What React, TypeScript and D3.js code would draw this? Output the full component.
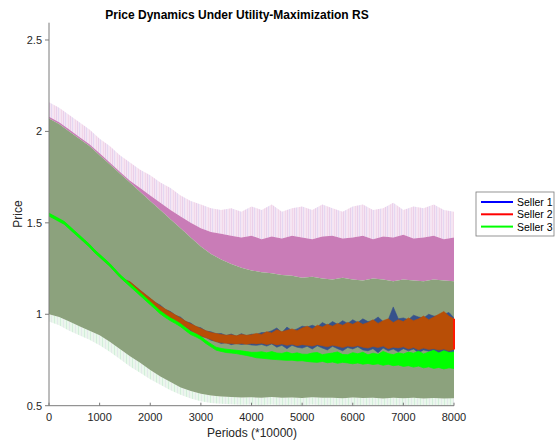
import React from 'react';
import * as d3 from 'd3';

// ---------- data ----------
const xTicks = [0, 1000, 2000, 3000, 4000, 5000, 6000, 7000, 8000];
const yTicks = [0.5, 1, 1.5, 2, 2.5];
const sellers = ['Seller 1', 'Seller 2', 'Seller 3'];

// envelope of all simulated paths, sampled every 200 periods
const bandPeriods = d3.range(0, 8001, 200);
const greenTop = [2.07,2.04,2.0,1.96,1.92,1.87,1.82,1.77,1.72,1.67,1.62,1.57,1.52,1.47,1.42,1.37,1.33,1.3,1.275,1.255,1.24,1.23,1.225,1.215,1.21,1.2,1.205,1.195,1.19,1.2,1.19,1.185,1.195,1.19,1.18,1.19,1.185,1.18,1.19,1.185,1.18];
const pinkTop = [2.08,2.05,2.01,1.97,1.93,1.88,1.83,1.78,1.73,1.69,1.65,1.61,1.57,1.535,1.5,1.47,1.45,1.44,1.43,1.42,1.43,1.41,1.425,1.415,1.43,1.42,1.41,1.425,1.43,1.415,1.42,1.43,1.41,1.425,1.42,1.435,1.415,1.42,1.43,1.41,1.42];
const fuzzTop = [2.16,2.13,2.09,2.05,2.01,1.96,1.92,1.87,1.83,1.79,1.76,1.72,1.69,1.65,1.62,1.6,1.58,1.57,1.58,1.56,1.59,1.57,1.6,1.56,1.58,1.59,1.57,1.6,1.58,1.56,1.59,1.6,1.57,1.58,1.61,1.57,1.59,1.58,1.6,1.57,1.56];
const bandLo = [1.0,0.985,0.96,0.935,0.91,0.885,0.85,0.81,0.77,0.735,0.695,0.66,0.63,0.6,0.58,0.565,0.556,0.55,0.548,0.545,0.546,0.544,0.547,0.543,0.545,0.542,0.546,0.543,0.544,0.541,0.545,0.542,0.544,0.54,0.543,0.541,0.544,0.54,0.542,0.539,0.541];
const fuzzLo = [0.96,0.94,0.91,0.885,0.86,0.83,0.795,0.755,0.715,0.68,0.645,0.615,0.585,0.56,0.54,0.525,0.515,0.51,0.508,0.505,0.506,0.504,0.507,0.503,0.505,0.502,0.506,0.503,0.504,0.502,0.505,0.502,0.504,0.5,0.503,0.501,0.504,0.5,0.502,0.5,0.501];

// mean price per seller (min / max within each 100-period bin)
const linePeriods = d3.range(0, 8001, 100);
const s1Hi = [1.549,1.534,1.519,1.504,1.479,1.454,1.429,1.404,1.379,1.349,1.324,1.299,1.274,1.244,1.214,1.189,
  1.176,1.153,1.13,1.108,1.086,1.064,1.05,1.026,1.015,0.994,0.984,0.96,0.952,0.932,0.926,0.908,0.904,0.893,0.895,0.884,0.892,0.88,0.894,0.883,0.891,
  0.89,0.9,0.9,0.91,0.925,0.9,0.93,0.91,0.92,0.935,0.93,0.94,0.93,0.955,0.94,0.96,0.945,0.965,0.95,0.97,0.955,0.975,0.96,0.965,0.985,0.96,0.97,1.04,0.975,0.98,0.97,0.995,0.985,0.98,1.0,0.99,0.99,1.0,1.01,0.98];
const s1Lo = [1.541,1.526,1.511,1.496,1.471,1.446,1.421,1.396,1.371,1.341,1.316,1.291,1.266,1.236,1.206,1.181,
  1.16,1.135,1.106,1.087,1.06,1.042,1.015,1.0,0.976,0.967,0.944,0.932,0.908,0.897,0.878,0.874,0.858,0.852,0.84,0.844,0.834,0.84,0.835,0.838,0.832,
  0.83,0.835,0.826,0.838,0.82,0.83,0.812,0.83,0.82,0.815,0.825,0.81,0.828,0.815,0.805,0.825,0.812,0.8,0.818,0.81,0.822,0.805,0.8,0.812,0.79,0.815,0.8,0.81,0.795,0.812,0.8,0.81,0.79,0.805,0.798,0.8,0.79,0.8,0.785,0.79];
const s2Hi = [1.549,1.534,1.519,1.504,1.479,1.454,1.429,1.404,1.379,1.349,1.324,1.299,1.274,1.244,1.214,1.189,
  1.178,1.155,1.132,1.11,1.088,1.066,1.045,1.028,1.012,0.996,0.98,0.962,0.948,0.935,0.922,0.91,0.9,0.895,0.89,0.885,0.888,0.882,0.89,0.885,0.888,
  0.895,0.89,0.905,0.898,0.915,0.905,0.912,0.92,0.91,0.925,0.935,0.92,0.94,0.93,0.945,0.935,0.95,0.94,0.955,0.945,0.96,0.945,0.955,0.97,0.95,0.965,0.975,0.955,0.97,0.96,0.98,0.965,0.975,0.99,0.97,0.985,1.0,1.015,0.99,0.975];
const s2Lo = [1.541,1.526,1.511,1.496,1.471,1.446,1.421,1.396,1.371,1.341,1.316,1.291,1.266,1.236,1.206,1.181,
  1.158,1.133,1.108,1.085,1.062,1.04,1.018,0.998,0.98,0.965,0.948,0.93,0.912,0.895,0.882,0.872,0.862,0.85,0.845,0.842,0.84,0.838,0.84,0.836,0.84,
  0.838,0.842,0.835,0.84,0.832,0.838,0.83,0.836,0.828,0.834,0.83,0.826,0.834,0.828,0.822,0.83,0.825,0.818,0.826,0.822,0.828,0.82,0.815,0.824,0.818,0.826,0.812,0.82,0.816,0.822,0.81,0.818,0.806,0.815,0.808,0.812,0.804,0.81,0.8,0.808];
const s3Hi = [1.553,1.538,1.523,1.508,1.483,1.458,1.433,1.408,1.383,1.353,1.328,1.303,1.278,1.248,1.218,1.193,1.168,1.143,1.118,1.093,1.068,1.043,1.018,0.998,0.98,0.965,0.948,0.926,0.905,0.893,0.878,0.856,0.838,0.82,0.813,0.809,0.806,0.803,0.8,0.796,0.792,
  0.792,0.795,0.789,0.796,0.788,0.786,0.793,0.784,0.789,0.782,0.781,0.788,0.791,0.779,0.784,0.788,0.794,0.78,0.779,0.79,0.784,0.792,0.778,0.787,0.781,0.797,0.785,0.779,0.789,0.783,0.793,0.787,0.798,0.783,0.793,0.803,0.788,0.801,0.791,0.794];
const s3Lo = [1.537,1.522,1.507,1.492,1.467,1.442,1.417,1.392,1.367,1.337,1.312,1.287,1.262,1.232,1.202,1.177,1.152,1.127,1.102,1.077,1.052,1.027,1.002,0.982,0.964,0.949,0.932,0.91,0.889,0.877,0.862,0.84,0.822,0.804,0.797,0.791,0.788,0.785,0.78,0.775,0.769,
  0.762,0.76,0.757,0.754,0.752,0.75,0.748,0.749,0.745,0.746,0.742,0.739,0.737,0.742,0.735,0.739,0.732,0.737,0.734,0.729,0.734,0.727,0.731,0.725,0.729,0.721,0.727,0.719,0.723,0.715,0.719,0.711,0.717,0.707,0.713,0.704,0.709,0.701,0.707,0.704];

// ---------- styles ----------
const FONT = '"Liberation Sans", Arial, Helvetica, sans-serif';
const legendColors = ['#0000ff', '#ff0000', '#00ff00'];

export default function App() {
  const W = 555, H = 443;
  const x = d3.scaleLinear().domain([0, 8000]).range([49, 454]);
  const y = d3.scaleLinear().domain([0.5, 2.6]).range([405.7, 21.7]);

  const band = (xs: number[], lo: number[], hi: number[]) =>
    d3.area<number>()
      .x((_, i) => x(xs[i]))
      .y0((_, i) => y(lo[i]))
      .y1((_, i) => y(hi[i]))(lo) || '';

  const [x0, x1] = x.range();
  const [yb, yt] = y.range();

  return (
    <div style={{ position: 'absolute', left: 0, top: 0 }}>
      <svg width={W} height={H} style={{ display: 'block', background: '#fff' }}>
        <defs>
          <clipPath id="plot">
            <rect x={x0} y={yt} width={x1 - x0} height={yb - yt} />
          </clipPath>
          <pattern id="streak" x="0" y="0" width="7" height="20" patternUnits="userSpaceOnUse">
            <rect x="0" y="0" width="1" height="20" fill="#c98ad0" opacity="0.25" />
            <rect x="2" y="0" width="1" height="20" fill="#9aa6ee" opacity="0.2" />
            <rect x="5" y="0" width="1" height="20" fill="#e6a0bc" opacity="0.2" />
          </pattern>
          <pattern id="streakLo" x="0" y="0" width="6" height="20" patternUnits="userSpaceOnUse">
            <rect x="0" y="0" width="1" height="20" fill="#9ee0b0" opacity="0.3" />
            <rect x="3" y="0" width="1" height="20" fill="#d4bce6" opacity="0.25" />
          </pattern>
        </defs>

        <g clipPath="url(#plot)">
          {/* light fuzz */}
          <path d={band(bandPeriods, pinkTop, fuzzTop)} fill="#f1dcef" opacity={0.75} />
          <path d={band(bandPeriods, pinkTop, fuzzTop)} fill="url(#streak)" />
          <path d={band(bandPeriods, fuzzLo, bandLo)} fill="#e3f4e6" opacity={0.75} />
          <path d={band(bandPeriods, fuzzLo, bandLo)} fill="url(#streakLo)" />
          {/* seller 1 & 2 path ranges */}
          <path d={band(bandPeriods, greenTop, pinkTop)} fill="#c97cb7" />
          {/* all sellers path range */}
          <path d={band(bandPeriods, bandLo, greenTop)} fill="#8ca27d" />

          {/* mean prices */}
          <path d={band(linePeriods, s1Lo, s1Hi)} fill="#36528c" stroke="#36528c" strokeWidth={0.6} />
          <path d={band(linePeriods, s2Lo, s2Hi)} fill="#b84e06" stroke="#b84e06" strokeWidth={0.6} />
          <path d={band(linePeriods, s3Lo, s3Hi)} fill="#00ff00" stroke="#00ff00" strokeWidth={0.8} />
        </g>
        {/* final segment of seller 2 */}
        <line x1={x(8000)} x2={x(8000)} y1={y(s2Lo[s2Lo.length - 1])} y2={y(s2Hi[s2Hi.length - 1])} stroke="#ff1a00" strokeWidth={2} />

        {/* axes */}
        <g fontFamily={FONT} fontSize={11} fill="#262626">
          <line x1={x0} x2={x1} y1={yb} y2={yb} stroke="#7a7a7a" strokeWidth={1} />
          <line x1={x0} x2={x0} y1={yb} y2={yt + 1} stroke="#7a7a7a" strokeWidth={1} />
          {xTicks.map((t) => (
            <g key={t}>
              <line x1={x(t)} x2={x(t)} y1={yb} y2={yb - 3} stroke="#7a7a7a" />
              <text x={x(t)} y={yb + 15} textAnchor="middle">{t}</text>
            </g>
          ))}
          {yTicks.map((t) => (
            <g key={t}>
              <line x1={x0} x2={x0 - 4} y1={y(t)} y2={y(t)} stroke="#7a7a7a" />
              <text x={x0 - 7} y={y(t) + 4} textAnchor="end">{t}</text>
            </g>
          ))}
        </g>

        {/* labels */}
        <text x={237} y={19} textAnchor="middle" fontFamily={FONT} fontSize={12} fontWeight="bold" fill="#000">
          Price Dynamics Under Utility-Maximization RS
        </text>
        <text x={252} y={437} textAnchor="middle" fontFamily={FONT} fontSize={12} fill="#262626">Periods (*10000)</text>
        <text transform={`translate(22,214) rotate(-90)`} textAnchor="middle" fontFamily={FONT} fontSize={12} fill="#262626">Price</text>

        {/* legend */}
        <g fontFamily={FONT} fontSize={10.5} fill="#000">
          <rect x={476} y={192} width={78} height={44} fill="#fff" stroke="#7a7a7a" strokeWidth={0.8} />
          {sellers.map((s, i) => (
            <g key={s}>
              <line x1={481} x2={513} y1={202 + i * 12.3} y2={202 + i * 12.3} stroke={legendColors[i]} strokeWidth={2} />
              <text x={517} y={202 + i * 12.3 + 4}>{s}</text>
            </g>
          ))}
        </g>
      </svg>
    </div>
  );
}
